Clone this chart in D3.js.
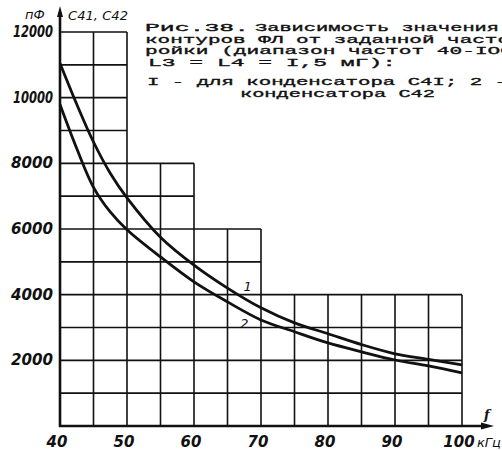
<!DOCTYPE html>
<html><head><meta charset="utf-8">
<script src="https://cdn.jsdelivr.net/npm/d3@7"></script>
<style>html,body{margin:0;padding:0;background:#fff;overflow:hidden}</style>
</head><body>
<svg id="c" width="502" height="450"></svg>
<script>
// ---- data ----
const freqs = [40, 42.5, 45, 47.5, 50, 55, 60, 65, 70, 75, 80, 85, 90, 95, 100];
const c41 = [11050, 9800, 8650, 7700, 6950, 5750, 4900, 4200, 3600, 3140, 2810, 2480, 2200, 2030, 1860];
const c42 = [9790, 8450, 7270, 6520, 5980, 5150, 4390, 3780, 3230, 2870, 2530, 2260, 2010, 1830, 1620];
const curveNames = ["1", "2"];
const xTicks = [40, 50, 60, 70, 80, 90, 100];
const xTickLabels = ["40", "50", "60", "70", "80", "90", "100"];
const yTicks = [2000, 4000, 6000, 8000, 10000, 12000];
const yTickLabels = ["2000", "4000", "6000", "8000", "10000", "12000"];
const gridColumns = [40, 45, 50, 55, 60, 65, 70, 75, 80, 85, 90, 95];
const gridColumnTops = [12000, 12000, 8000, 8000, 6000, 6000, 4000, 4000, 4000, 4000, 4000, 4000];
const gridStepX = 5, gridStepY = 1000;
const yUnit = "пФ", yName = "C41, C42", xUnit = "кГц", xName = "f";
const captionLines = [
  "Рис.38.", "Зависимость значения",
  "контуров ФЛ от заданной часто",
  "ройки (диапазон частот 40-IOO",
  "L3 = L4 = I,5 мГ):",
  "I - для конденсатора C4I; 2 -",
  "конденсатора C42"
];

// ---- layout ----
const svg = d3.select("#c");
const x = d3.scaleLinear().domain([40, 100]).range([60, 462]);
const y = d3.scaleLinear().domain([0, 12000]).range([426, 32]);
const ink = "#111";

// grid
const g = svg.append("g").attr("stroke", ink).attr("stroke-width", 1.6).attr("fill", "none");
const levels = d3.range(gridStepY, 12000 + 1, gridStepY);
levels.forEach(h => {
  let right = null;
  gridColumns.forEach((c, i) => { if (gridColumnTops[i] >= h) right = c + gridStepX; });
  if (right !== null) g.append("line").attr("x1", x(40)).attr("x2", x(right)).attr("y1", y(h)).attr("y2", y(h));
});
gridColumns.forEach((c, i) => {
  const xr = c + gridStepX;
  const topR = Math.max(gridColumnTops[i], i + 1 < gridColumns.length ? gridColumnTops[i + 1] : 0);
  g.append("line").attr("x1", x(xr)).attr("x2", x(xr)).attr("y1", y(0)).attr("y2", y(topR));
});

// axes
const ax = svg.append("g").attr("stroke", ink).attr("stroke-width", 2.6).attr("fill", "none");
ax.append("line").attr("x1", x(40)).attr("x2", x(40)).attr("y1", y(0) + 1).attr("y2", 12);
ax.append("line").attr("x1", x(40) - 1).attr("x2", 486).attr("y1", y(0)).attr("y2", y(0));
svg.append("path").attr("d", `M${x(40)},6 L${x(40)-3},17 L${x(40)+3},17 Z`).attr("fill", ink);
svg.append("path").attr("d", `M494,${y(0)} L481,${y(0)-3.5} L481,${y(0)+3.5} Z`).attr("fill", ink);

// curves
const line = d3.line().x(d => x(d[0])).y(d => y(d[1])).curve(d3.curveCatmullRom.alpha(0.5));
[c41, c42].forEach(series => {
  svg.append("path").datum(freqs.map((f, i) => [f, series[i]]))
    .attr("d", line).attr("fill", "none").attr("stroke", ink).attr("stroke-width", 2.8);
});
const curveLabelPos = [[67.4, 4250], [66.9, 3150]];
curveNames.forEach((n, i) => {
  svg.append("text").attr("x", x(curveLabelPos[i][0])).attr("y", y(curveLabelPos[i][1]) + 5)
    .attr("font-family", "DejaVu Sans").attr("font-style", "italic").attr("font-size", 13)
    .attr("fill", ink).text(n);
});

// tick labels
const tickFont = {"font-family": "DejaVu Sans", "font-style": "italic", "font-size": 15, "font-weight": "bold"};
function applyFont(sel, f) { Object.entries(f).forEach(([k, v]) => sel.attr(k, v)); return sel; }
yTicks.forEach((v, i) => {
  applyFont(svg.append("text"), tickFont).attr("x", 53).attr("y", y(v) + 5)
    .attr("text-anchor", "end").attr("fill", ink).attr("textLength", yTickLabels[i].length === 5 ? 40 : 42)
    .attr("lengthAdjust", "spacingAndGlyphs").text(yTickLabels[i]);
});
xTicks.forEach((v, i) => {
  applyFont(svg.append("text"), tickFont).attr("x", x(v) - 3).attr("y", 447)
    .attr("text-anchor", "middle").attr("fill", ink).text(xTickLabels[i]);
});
applyFont(svg.append("text"), {"font-family": "DejaVu Sans", "font-style": "italic", "font-size": 13}).attr("x", 477).attr("y", 447).attr("fill", ink).text(xUnit);
applyFont(svg.append("text"), {"font-family": "DejaVu Serif", "font-style": "italic", "font-size": 13, "font-weight": "bold"}).attr("x", 484).attr("y", 419).attr("fill", ink).text(xName);
applyFont(svg.append("text"), {"font-family": "DejaVu Sans", "font-style": "italic", "font-size": 13}).attr("x", 25).attr("y", 19).attr("fill", ink).text(yUnit);
applyFont(svg.append("text"), {"font-family": "DejaVu Sans", "font-style": "italic", "font-size": 13}).attr("x", 68).attr("y", 20).attr("fill", ink)
  .attr("textLength", 60).attr("lengthAdjust", "spacingAndGlyphs").text(yName);

// caption (typewriter)
const captionLayout = [
  [145, 31, 104], [255, 31, 244], [145, 42.5, 365], [145, 54, 368], [148, 65.5, 248], [147, 85, 360], [240, 97, 195]
];
captionLines.forEach((t, i) => {
  const [cx, cy, len] = captionLayout[i];
  svg.append("text").attr("x", cx).attr("y", cy).attr("font-family", "Liberation Mono")
    .attr("font-size", 11.5).attr("fill", ink).attr("stroke", ink).attr("stroke-width", 0.35)
    .attr("textLength", len).attr("lengthAdjust", "spacingAndGlyphs").text(t);
});
</script>
</body></html>
